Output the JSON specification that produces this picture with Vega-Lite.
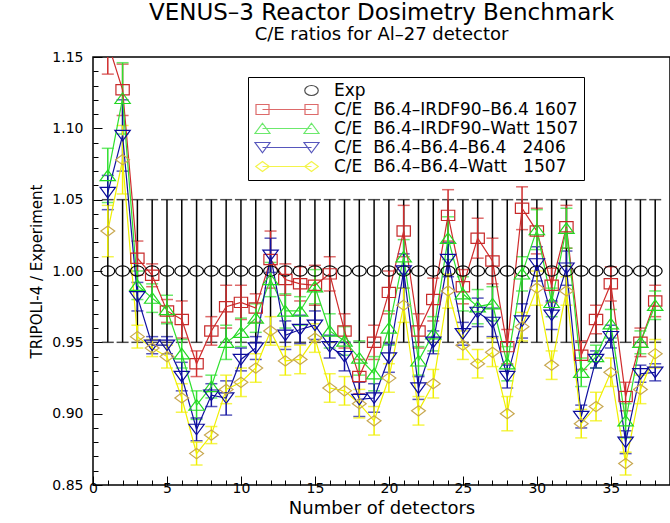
{
  "$schema": "https://vega.github.io/schema/vega-lite/v6.json",
  "width": 577,
  "height": 428,
  "autosize": {"type": "none"},
  "padding": {"left": 93, "top": 57, "right": 0, "bottom": 38},
  "background": "white",
  "config": {
    "font": "DejaVu Sans",
    "view": {"stroke": "black", "strokeWidth": 1.5},
    "axis": {"grid": false, "domain": false, "ticks": true, "tickWidth": 1, "tickColor": "black", "labelColor": "black", "titleColor": "black", "titleFontWeight": "normal", "labelFont": "DejaVu Sans", "titleFont": "DejaVu Sans", "labelOverlap": false, "labelFlush": false, "labelBound": false}
  },
  "title": {
    "text": "VENUS–3 Reactor Dosimetry Benchmark",
    "subtitle": "C/E ratios for Al–27 detector",
    "anchor": "middle",
    "font": "DejaVu Sans",
    "fontSize": 23,
    "fontWeight": "normal",
    "color": "black",
    "subtitleFont": "DejaVu Sans",
    "subtitleFontSize": 18,
    "subtitleColor": "black",
    "subtitlePadding": 1,
    "offset": 6
  },
  "datasets": {
    "vals": [
      {"detector":1,"series":"Exp","ratio":1.0,"err":0.05},{"detector":2,"series":"Exp","ratio":1.0,"err":0.05},{"detector":3,"series":"Exp","ratio":1.0,"err":0.05},{"detector":4,"series":"Exp","ratio":1.0,"err":0.05},{"detector":5,"series":"Exp","ratio":1.0,"err":0.05},{"detector":6,"series":"Exp","ratio":1.0,"err":0.05},{"detector":7,"series":"Exp","ratio":1.0,"err":0.05},{"detector":8,"series":"Exp","ratio":1.0,"err":0.05},{"detector":9,"series":"Exp","ratio":1.0,"err":0.05},{"detector":10,"series":"Exp","ratio":1.0,"err":0.05},
      {"detector":11,"series":"Exp","ratio":1.0,"err":0.05},{"detector":12,"series":"Exp","ratio":1.0,"err":0.05},{"detector":13,"series":"Exp","ratio":1.0,"err":0.05},{"detector":14,"series":"Exp","ratio":1.0,"err":0.05},{"detector":15,"series":"Exp","ratio":1.0,"err":0.05},{"detector":16,"series":"Exp","ratio":1.0,"err":0.05},{"detector":17,"series":"Exp","ratio":1.0,"err":0.05},{"detector":18,"series":"Exp","ratio":1.0,"err":0.05},{"detector":19,"series":"Exp","ratio":1.0,"err":0.05},{"detector":20,"series":"Exp","ratio":1.0,"err":0.05},
      {"detector":21,"series":"Exp","ratio":1.0,"err":0.05},{"detector":22,"series":"Exp","ratio":1.0,"err":0.05},{"detector":23,"series":"Exp","ratio":1.0,"err":0.05},{"detector":24,"series":"Exp","ratio":1.0,"err":0.05},{"detector":25,"series":"Exp","ratio":1.0,"err":0.05},{"detector":26,"series":"Exp","ratio":1.0,"err":0.05},{"detector":27,"series":"Exp","ratio":1.0,"err":0.05},{"detector":28,"series":"Exp","ratio":1.0,"err":0.05},{"detector":29,"series":"Exp","ratio":1.0,"err":0.05},{"detector":30,"series":"Exp","ratio":1.0,"err":0.05},
      {"detector":31,"series":"Exp","ratio":1.0,"err":0.05},{"detector":32,"series":"Exp","ratio":1.0,"err":0.05},{"detector":33,"series":"Exp","ratio":1.0,"err":0.05},{"detector":34,"series":"Exp","ratio":1.0,"err":0.05},{"detector":35,"series":"Exp","ratio":1.0,"err":0.05},{"detector":36,"series":"Exp","ratio":1.0,"err":0.05},{"detector":37,"series":"Exp","ratio":1.0,"err":0.05},{"detector":38,"series":"Exp","ratio":1.0,"err":0.05},

      {"detector":1,"series":"C/E\u00a0\u00a0B6.4–IRDF90–B6.4 1607","ratio":1.160,"err":0.022},{"detector":2,"series":"C/E\u00a0\u00a0B6.4–IRDF90–B6.4 1607","ratio":1.127,"err":0.018},{"detector":3,"series":"C/E\u00a0\u00a0B6.4–IRDF90–B6.4 1607","ratio":1.009,"err":0.012},{"detector":4,"series":"C/E\u00a0\u00a0B6.4–IRDF90–B6.4 1607","ratio":0.997,"err":0.008},{"detector":5,"series":"C/E\u00a0\u00a0B6.4–IRDF90–B6.4 1607","ratio":0.972,"err":0.008},{"detector":6,"series":"C/E\u00a0\u00a0B6.4–IRDF90–B6.4 1607","ratio":0.966,"err":0.013},{"detector":7,"series":"C/E\u00a0\u00a0B6.4–IRDF90–B6.4 1607","ratio":0.935,"err":0.009},{"detector":8,"series":"C/E\u00a0\u00a0B6.4–IRDF90–B6.4 1607","ratio":0.958,"err":0.010},{"detector":9,"series":"C/E\u00a0\u00a0B6.4–IRDF90–B6.4 1607","ratio":0.975,"err":0.015},{"detector":10,"series":"C/E\u00a0\u00a0B6.4–IRDF90–B6.4 1607","ratio":0.978,"err":0.012},
      {"detector":11,"series":"C/E\u00a0\u00a0B6.4–IRDF90–B6.4 1607","ratio":0.974,"err":0.010},{"detector":12,"series":"C/E\u00a0\u00a0B6.4–IRDF90–B6.4 1607","ratio":1.008,"err":0.020},{"detector":13,"series":"C/E\u00a0\u00a0B6.4–IRDF90–B6.4 1607","ratio":0.994,"err":0.011},{"detector":14,"series":"C/E\u00a0\u00a0B6.4–IRDF90–B6.4 1607","ratio":0.991,"err":0.012},{"detector":15,"series":"C/E\u00a0\u00a0B6.4–IRDF90–B6.4 1607","ratio":0.990,"err":0.014},{"detector":16,"series":"C/E\u00a0\u00a0B6.4–IRDF90–B6.4 1607","ratio":0.998,"err":0.012},{"detector":17,"series":"C/E\u00a0\u00a0B6.4–IRDF90–B6.4 1607","ratio":0.958,"err":0.012},{"detector":18,"series":"C/E\u00a0\u00a0B6.4–IRDF90–B6.4 1607","ratio":0.926,"err":0.012},{"detector":19,"series":"C/E\u00a0\u00a0B6.4–IRDF90–B6.4 1607","ratio":0.950,"err":0.012},{"detector":20,"series":"C/E\u00a0\u00a0B6.4–IRDF90–B6.4 1607","ratio":0.985,"err":0.015},
      {"detector":21,"series":"C/E\u00a0\u00a0B6.4–IRDF90–B6.4 1607","ratio":1.028,"err":0.018},{"detector":22,"series":"C/E\u00a0\u00a0B6.4–IRDF90–B6.4 1607","ratio":0.958,"err":0.012},{"detector":23,"series":"C/E\u00a0\u00a0B6.4–IRDF90–B6.4 1607","ratio":0.980,"err":0.015},{"detector":24,"series":"C/E\u00a0\u00a0B6.4–IRDF90–B6.4 1607","ratio":1.039,"err":0.018},{"detector":25,"series":"C/E\u00a0\u00a0B6.4–IRDF90–B6.4 1607","ratio":0.989,"err":0.012},{"detector":26,"series":"C/E\u00a0\u00a0B6.4–IRDF90–B6.4 1607","ratio":1.023,"err":0.014},{"detector":27,"series":"C/E\u00a0\u00a0B6.4–IRDF90–B6.4 1607","ratio":1.007,"err":0.016},{"detector":28,"series":"C/E\u00a0\u00a0B6.4–IRDF90–B6.4 1607","ratio":0.947,"err":0.012},{"detector":29,"series":"C/E\u00a0\u00a0B6.4–IRDF90–B6.4 1607","ratio":1.044,"err":0.015},{"detector":30,"series":"C/E\u00a0\u00a0B6.4–IRDF90–B6.4 1607","ratio":1.028,"err":0.016},
      {"detector":31,"series":"C/E\u00a0\u00a0B6.4–IRDF90–B6.4 1607","ratio":0.990,"err":0.012},{"detector":32,"series":"C/E\u00a0\u00a0B6.4–IRDF90–B6.4 1607","ratio":1.031,"err":0.015},{"detector":33,"series":"C/E\u00a0\u00a0B6.4–IRDF90–B6.4 1607","ratio":0.941,"err":0.010},{"detector":34,"series":"C/E\u00a0\u00a0B6.4–IRDF90–B6.4 1607","ratio":0.966,"err":0.010},{"detector":35,"series":"C/E\u00a0\u00a0B6.4–IRDF90–B6.4 1607","ratio":0.991,"err":0.012},{"detector":36,"series":"C/E\u00a0\u00a0B6.4–IRDF90–B6.4 1607","ratio":0.912,"err":0.010},{"detector":37,"series":"C/E\u00a0\u00a0B6.4–IRDF90–B6.4 1607","ratio":0.950,"err":0.010},{"detector":38,"series":"C/E\u00a0\u00a0B6.4–IRDF90–B6.4 1607","ratio":0.979,"err":0.011},

      {"detector":1,"series":"C/E\u00a0\u00a0B6.4–IRDF90–Watt 1507","ratio":1.067,"err":0.019},{"detector":2,"series":"C/E\u00a0\u00a0B6.4–IRDF90–Watt 1507","ratio":1.121,"err":0.025},{"detector":3,"series":"C/E\u00a0\u00a0B6.4–IRDF90–Watt 1507","ratio":0.990,"err":0.010},{"detector":4,"series":"C/E\u00a0\u00a0B6.4–IRDF90–Watt 1507","ratio":0.981,"err":0.010},{"detector":5,"series":"C/E\u00a0\u00a0B6.4–IRDF90–Watt 1507","ratio":0.973,"err":0.010},{"detector":6,"series":"C/E\u00a0\u00a0B6.4–IRDF90–Watt 1507","ratio":0.942,"err":0.010},{"detector":7,"series":"C/E\u00a0\u00a0B6.4–IRDF90–Watt 1507","ratio":0.906,"err":0.010},{"detector":8,"series":"C/E\u00a0\u00a0B6.4–IRDF90–Watt 1507","ratio":0.919,"err":0.008},{"detector":9,"series":"C/E\u00a0\u00a0B6.4–IRDF90–Watt 1507","ratio":0.950,"err":0.012},{"detector":10,"series":"C/E\u00a0\u00a0B6.4–IRDF90–Watt 1507","ratio":0.957,"err":0.010},
      {"detector":11,"series":"C/E\u00a0\u00a0B6.4–IRDF90–Watt 1507","ratio":0.967,"err":0.010},{"detector":12,"series":"C/E\u00a0\u00a0B6.4–IRDF90–Watt 1507","ratio":0.994,"err":0.012},{"detector":13,"series":"C/E\u00a0\u00a0B6.4–IRDF90–Watt 1507","ratio":0.972,"err":0.012},{"detector":14,"series":"C/E\u00a0\u00a0B6.4–IRDF90–Watt 1507","ratio":0.972,"err":0.010},{"detector":15,"series":"C/E\u00a0\u00a0B6.4–IRDF90–Watt 1507","ratio":0.989,"err":0.012},{"detector":16,"series":"C/E\u00a0\u00a0B6.4–IRDF90–Watt 1507","ratio":0.958,"err":0.012},{"detector":17,"series":"C/E\u00a0\u00a0B6.4–IRDF90–Watt 1507","ratio":0.951,"err":0.010},{"detector":18,"series":"C/E\u00a0\u00a0B6.4–IRDF90–Watt 1507","ratio":0.939,"err":0.012},{"detector":19,"series":"C/E\u00a0\u00a0B6.4–IRDF90–Watt 1507","ratio":0.928,"err":0.012},{"detector":20,"series":"C/E\u00a0\u00a0B6.4–IRDF90–Watt 1507","ratio":0.960,"err":0.012},
      {"detector":21,"series":"C/E\u00a0\u00a0B6.4–IRDF90–Watt 1507","ratio":1.010,"err":0.012},{"detector":22,"series":"C/E\u00a0\u00a0B6.4–IRDF90–Watt 1507","ratio":0.937,"err":0.010},{"detector":23,"series":"C/E\u00a0\u00a0B6.4–IRDF90–Watt 1507","ratio":0.956,"err":0.012},{"detector":24,"series":"C/E\u00a0\u00a0B6.4–IRDF90–Watt 1507","ratio":1.023,"err":0.015},{"detector":25,"series":"C/E\u00a0\u00a0B6.4–IRDF90–Watt 1507","ratio":0.984,"err":0.012},{"detector":26,"series":"C/E\u00a0\u00a0B6.4–IRDF90–Watt 1507","ratio":0.975,"err":0.012},{"detector":27,"series":"C/E\u00a0\u00a0B6.4–IRDF90–Watt 1507","ratio":0.977,"err":0.012},{"detector":28,"series":"C/E\u00a0\u00a0B6.4–IRDF90–Watt 1507","ratio":0.935,"err":0.012},{"detector":29,"series":"C/E\u00a0\u00a0B6.4–IRDF90–Watt 1507","ratio":0.998,"err":0.012},{"detector":30,"series":"C/E\u00a0\u00a0B6.4–IRDF90–Watt 1507","ratio":1.029,"err":0.014},
      {"detector":31,"series":"C/E\u00a0\u00a0B6.4–IRDF90–Watt 1507","ratio":0.978,"err":0.010},{"detector":32,"series":"C/E\u00a0\u00a0B6.4–IRDF90–Watt 1507","ratio":1.030,"err":0.014},{"detector":33,"series":"C/E\u00a0\u00a0B6.4–IRDF90–Watt 1507","ratio":0.929,"err":0.010},{"detector":34,"series":"C/E\u00a0\u00a0B6.4–IRDF90–Watt 1507","ratio":0.940,"err":0.008},{"detector":35,"series":"C/E\u00a0\u00a0B6.4–IRDF90–Watt 1507","ratio":0.963,"err":0.010},{"detector":36,"series":"C/E\u00a0\u00a0B6.4–IRDF90–Watt 1507","ratio":0.895,"err":0.012},{"detector":37,"series":"C/E\u00a0\u00a0B6.4–IRDF90–Watt 1507","ratio":0.950,"err":0.008},{"detector":38,"series":"C/E\u00a0\u00a0B6.4–IRDF90–Watt 1507","ratio":0.976,"err":0.010},

      {"detector":1,"series":"C/E\u00a0\u00a0B6.4–B6.4–B6.4\u00a0\u00a0\u00a02406","ratio":1.055,"err":0.012},{"detector":2,"series":"C/E\u00a0\u00a0B6.4–B6.4–B6.4\u00a0\u00a0\u00a02406","ratio":1.095,"err":0.025},{"detector":3,"series":"C/E\u00a0\u00a0B6.4–B6.4–B6.4\u00a0\u00a0\u00a02406","ratio":0.982,"err":0.010},{"detector":4,"series":"C/E\u00a0\u00a0B6.4–B6.4–B6.4\u00a0\u00a0\u00a02406","ratio":0.948,"err":0.006},{"detector":5,"series":"C/E\u00a0\u00a0B6.4–B6.4–B6.4\u00a0\u00a0\u00a02406","ratio":0.948,"err":0.006},{"detector":6,"series":"C/E\u00a0\u00a0B6.4–B6.4–B6.4\u00a0\u00a0\u00a02406","ratio":0.926,"err":0.010},{"detector":7,"series":"C/E\u00a0\u00a0B6.4–B6.4–B6.4\u00a0\u00a0\u00a02406","ratio":0.889,"err":0.008},{"detector":8,"series":"C/E\u00a0\u00a0B6.4–B6.4–B6.4\u00a0\u00a0\u00a02406","ratio":0.913,"err":0.008},{"detector":9,"series":"C/E\u00a0\u00a0B6.4–B6.4–B6.4\u00a0\u00a0\u00a02406","ratio":0.911,"err":0.012},{"detector":10,"series":"C/E\u00a0\u00a0B6.4–B6.4–B6.4\u00a0\u00a0\u00a02406","ratio":0.938,"err":0.008},
      {"detector":11,"series":"C/E\u00a0\u00a0B6.4–B6.4–B6.4\u00a0\u00a0\u00a02406","ratio":0.946,"err":0.008},{"detector":12,"series":"C/E\u00a0\u00a0B6.4–B6.4–B6.4\u00a0\u00a0\u00a02406","ratio":1.011,"err":0.012},{"detector":13,"series":"C/E\u00a0\u00a0B6.4–B6.4–B6.4\u00a0\u00a0\u00a02406","ratio":0.955,"err":0.010},{"detector":14,"series":"C/E\u00a0\u00a0B6.4–B6.4–B6.4\u00a0\u00a0\u00a02406","ratio":0.959,"err":0.010},{"detector":15,"series":"C/E\u00a0\u00a0B6.4–B6.4–B6.4\u00a0\u00a0\u00a02406","ratio":0.962,"err":0.010},{"detector":16,"series":"C/E\u00a0\u00a0B6.4–B6.4–B6.4\u00a0\u00a0\u00a02406","ratio":0.947,"err":0.008},{"detector":17,"series":"C/E\u00a0\u00a0B6.4–B6.4–B6.4\u00a0\u00a0\u00a02406","ratio":0.940,"err":0.010},{"detector":18,"series":"C/E\u00a0\u00a0B6.4–B6.4–B6.4\u00a0\u00a0\u00a02406","ratio":0.910,"err":0.012},{"detector":19,"series":"C/E\u00a0\u00a0B6.4–B6.4–B6.4\u00a0\u00a0\u00a02406","ratio":0.911,"err":0.010},{"detector":20,"series":"C/E\u00a0\u00a0B6.4–B6.4–B6.4\u00a0\u00a0\u00a02406","ratio":0.939,"err":0.010},
      {"detector":21,"series":"C/E\u00a0\u00a0B6.4–B6.4–B6.4\u00a0\u00a0\u00a02406","ratio":1.000,"err":0.012},{"detector":22,"series":"C/E\u00a0\u00a0B6.4–B6.4–B6.4\u00a0\u00a0\u00a02406","ratio":0.918,"err":0.008},{"detector":23,"series":"C/E\u00a0\u00a0B6.4–B6.4–B6.4\u00a0\u00a0\u00a02406","ratio":0.950,"err":0.008},{"detector":24,"series":"C/E\u00a0\u00a0B6.4–B6.4–B6.4\u00a0\u00a0\u00a02406","ratio":1.008,"err":0.012},{"detector":25,"series":"C/E\u00a0\u00a0B6.4–B6.4–B6.4\u00a0\u00a0\u00a02406","ratio":0.956,"err":0.008},{"detector":26,"series":"C/E\u00a0\u00a0B6.4–B6.4–B6.4\u00a0\u00a0\u00a02406","ratio":0.971,"err":0.010},{"detector":27,"series":"C/E\u00a0\u00a0B6.4–B6.4–B6.4\u00a0\u00a0\u00a02406","ratio":0.964,"err":0.010},{"detector":28,"series":"C/E\u00a0\u00a0B6.4–B6.4–B6.4\u00a0\u00a0\u00a02406","ratio":0.926,"err":0.008},{"detector":29,"series":"C/E\u00a0\u00a0B6.4–B6.4–B6.4\u00a0\u00a0\u00a02406","ratio":0.965,"err":0.012},{"detector":30,"series":"C/E\u00a0\u00a0B6.4–B6.4–B6.4\u00a0\u00a0\u00a02406","ratio":1.005,"err":0.012},
      {"detector":31,"series":"C/E\u00a0\u00a0B6.4–B6.4–B6.4\u00a0\u00a0\u00a02406","ratio":0.969,"err":0.010},{"detector":32,"series":"C/E\u00a0\u00a0B6.4–B6.4–B6.4\u00a0\u00a0\u00a02406","ratio":1.002,"err":0.012},{"detector":33,"series":"C/E\u00a0\u00a0B6.4–B6.4–B6.4\u00a0\u00a0\u00a02406","ratio":0.898,"err":0.008},{"detector":34,"series":"C/E\u00a0\u00a0B6.4–B6.4–B6.4\u00a0\u00a0\u00a02406","ratio":0.938,"err":0.006},{"detector":35,"series":"C/E\u00a0\u00a0B6.4–B6.4–B6.4\u00a0\u00a0\u00a02406","ratio":0.954,"err":0.008},{"detector":36,"series":"C/E\u00a0\u00a0B6.4–B6.4–B6.4\u00a0\u00a0\u00a02406","ratio":0.880,"err":0.008},{"detector":37,"series":"C/E\u00a0\u00a0B6.4–B6.4–B6.4\u00a0\u00a0\u00a02406","ratio":0.928,"err":0.006},{"detector":38,"series":"C/E\u00a0\u00a0B6.4–B6.4–B6.4\u00a0\u00a0\u00a02406","ratio":0.929,"err":0.006},

      {"detector":1,"series":"C/E\u00a0\u00a0B6.4–B6.4–Watt\u00a0\u00a0\u00a01507","ratio":1.028,"err":0.018},{"detector":2,"series":"C/E\u00a0\u00a0B6.4–B6.4–Watt\u00a0\u00a0\u00a01507","ratio":1.078,"err":0.024},{"detector":3,"series":"C/E\u00a0\u00a0B6.4–B6.4–Watt\u00a0\u00a0\u00a01507","ratio":0.954,"err":0.008},{"detector":4,"series":"C/E\u00a0\u00a0B6.4–B6.4–Watt\u00a0\u00a0\u00a01507","ratio":0.946,"err":0.006},{"detector":5,"series":"C/E\u00a0\u00a0B6.4–B6.4–Watt\u00a0\u00a0\u00a01507","ratio":0.940,"err":0.008},{"detector":6,"series":"C/E\u00a0\u00a0B6.4–B6.4–Watt\u00a0\u00a0\u00a01507","ratio":0.911,"err":0.010},{"detector":7,"series":"C/E\u00a0\u00a0B6.4–B6.4–Watt\u00a0\u00a0\u00a01507","ratio":0.872,"err":0.008},{"detector":8,"series":"C/E\u00a0\u00a0B6.4–B6.4–Watt\u00a0\u00a0\u00a01507","ratio":0.885,"err":0.006},{"detector":9,"series":"C/E\u00a0\u00a0B6.4–B6.4–Watt\u00a0\u00a0\u00a01507","ratio":0.917,"err":0.010},{"detector":10,"series":"C/E\u00a0\u00a0B6.4–B6.4–Watt\u00a0\u00a0\u00a01507","ratio":0.922,"err":0.010},
      {"detector":11,"series":"C/E\u00a0\u00a0B6.4–B6.4–Watt\u00a0\u00a0\u00a01507","ratio":0.932,"err":0.010},{"detector":12,"series":"C/E\u00a0\u00a0B6.4–B6.4–Watt\u00a0\u00a0\u00a01507","ratio":0.958,"err":0.010},{"detector":13,"series":"C/E\u00a0\u00a0B6.4–B6.4–Watt\u00a0\u00a0\u00a01507","ratio":0.937,"err":0.010},{"detector":14,"series":"C/E\u00a0\u00a0B6.4–B6.4–Watt\u00a0\u00a0\u00a01507","ratio":0.938,"err":0.010},{"detector":15,"series":"C/E\u00a0\u00a0B6.4–B6.4–Watt\u00a0\u00a0\u00a01507","ratio":0.953,"err":0.010},{"detector":16,"series":"C/E\u00a0\u00a0B6.4–B6.4–Watt\u00a0\u00a0\u00a01507","ratio":0.918,"err":0.010},{"detector":17,"series":"C/E\u00a0\u00a0B6.4–B6.4–Watt\u00a0\u00a0\u00a01507","ratio":0.916,"err":0.010},{"detector":18,"series":"C/E\u00a0\u00a0B6.4–B6.4–Watt\u00a0\u00a0\u00a01507","ratio":0.907,"err":0.010},{"detector":19,"series":"C/E\u00a0\u00a0B6.4–B6.4–Watt\u00a0\u00a0\u00a01507","ratio":0.895,"err":0.010},{"detector":20,"series":"C/E\u00a0\u00a0B6.4–B6.4–Watt\u00a0\u00a0\u00a01507","ratio":0.925,"err":0.010},
      {"detector":21,"series":"C/E\u00a0\u00a0B6.4–B6.4–Watt\u00a0\u00a0\u00a01507","ratio":0.976,"err":0.012},{"detector":22,"series":"C/E\u00a0\u00a0B6.4–B6.4–Watt\u00a0\u00a0\u00a01507","ratio":0.902,"err":0.010},{"detector":23,"series":"C/E\u00a0\u00a0B6.4–B6.4–Watt\u00a0\u00a0\u00a01507","ratio":0.921,"err":0.010},{"detector":24,"series":"C/E\u00a0\u00a0B6.4–B6.4–Watt\u00a0\u00a0\u00a01507","ratio":0.986,"err":0.012},{"detector":25,"series":"C/E\u00a0\u00a0B6.4–B6.4–Watt\u00a0\u00a0\u00a01507","ratio":0.948,"err":0.010},{"detector":26,"series":"C/E\u00a0\u00a0B6.4–B6.4–Watt\u00a0\u00a0\u00a01507","ratio":0.935,"err":0.010},{"detector":27,"series":"C/E\u00a0\u00a0B6.4–B6.4–Watt\u00a0\u00a0\u00a01507","ratio":0.943,"err":0.010},{"detector":28,"series":"C/E\u00a0\u00a0B6.4–B6.4–Watt\u00a0\u00a0\u00a01507","ratio":0.900,"err":0.012},{"detector":29,"series":"C/E\u00a0\u00a0B6.4–B6.4–Watt\u00a0\u00a0\u00a01507","ratio":0.961,"err":0.010},{"detector":30,"series":"C/E\u00a0\u00a0B6.4–B6.4–Watt\u00a0\u00a0\u00a01507","ratio":0.988,"err":0.012},
      {"detector":31,"series":"C/E\u00a0\u00a0B6.4–B6.4–Watt\u00a0\u00a0\u00a01507","ratio":0.934,"err":0.010},{"detector":32,"series":"C/E\u00a0\u00a0B6.4–B6.4–Watt\u00a0\u00a0\u00a01507","ratio":0.986,"err":0.010},{"detector":33,"series":"C/E\u00a0\u00a0B6.4–B6.4–Watt\u00a0\u00a0\u00a01507","ratio":0.893,"err":0.010},{"detector":34,"series":"C/E\u00a0\u00a0B6.4–B6.4–Watt\u00a0\u00a0\u00a01507","ratio":0.905,"err":0.010},{"detector":35,"series":"C/E\u00a0\u00a0B6.4–B6.4–Watt\u00a0\u00a0\u00a01507","ratio":0.929,"err":0.010},{"detector":36,"series":"C/E\u00a0\u00a0B6.4–B6.4–Watt\u00a0\u00a0\u00a01507","ratio":0.865,"err":0.008},{"detector":37,"series":"C/E\u00a0\u00a0B6.4–B6.4–Watt\u00a0\u00a0\u00a01507","ratio":0.917,"err":0.010},{"detector":38,"series":"C/E\u00a0\u00a0B6.4–B6.4–Watt\u00a0\u00a0\u00a01507","ratio":0.942,"err":0.010}
    ]
  },
  "data": {"name": "vals"},
  "encoding": {
    "x": {"field": "detector", "type": "quantitative",
      "scale": {"domain": [0, 39], "nice": false, "zero": false},
      "axis": {"title": "Number of detectors", "titleFontSize": 18, "titlePadding": 0,
        "values": [0,1,2,3,4,5,6,7,8,9,10,11,12,13,14,15,16,17,18,19,20,21,22,23,24,25,26,27,28,29,30,31,32,33,34,35,36,37,38],
        "labelExpr": "datum.value % 5 == 0 ? datum.label : ''",
        "labelOverlap": false, "labelFlush": false, "labelBound": false,
        "labelFontSize": 14, "labelPadding": 5,
        "tickSize": {"condition": {"test": "datum.value % 5 == 0", "value": -9}, "value": -5}}},
    "y": {"field": "ratio", "type": "quantitative",
      "scale": {"domain": [0.85, 1.15], "nice": false, "zero": false},
      "axis": {"title": "TRIPOLI-4 / Experiment", "titleFontSize": 15, "titlePadding": 7,
        "values": [0.85,0.86,0.87,0.88,0.89,0.9,0.91,0.92,0.93,0.94,0.95,0.96,0.97,0.98,0.99,1.0,1.01,1.02,1.03,1.04,1.05,1.06,1.07,1.08,1.09,1.1,1.11,1.12,1.13,1.14,1.15],
        "labelExpr": "round(datum.value*100) % 5 == 0 ? format(datum.value, '.2f') : ''",
        "labelOverlap": false, "labelFlush": false, "labelBound": false,
        "labelFontSize": 14, "labelPadding": 19,
        "tickSize": {"condition": {"test": "round(datum.value*100) % 5 == 0", "value": -9}, "value": -5}}}
  },
  "layer": [
    {
      "mark": {"type": "errorbar", "ticks": {"size": 12}, "thickness": 1.5, "clip": true},
      "encoding": {
        "yError": {"field": "err"},
        "color": {"field": "series", "type": "nominal",
          "scale": {"domain": ["Exp", "C/E\u00a0\u00a0B6.4–IRDF90–B6.4 1607", "C/E\u00a0\u00a0B6.4–IRDF90–Watt 1507", "C/E\u00a0\u00a0B6.4–B6.4–B6.4\u00a0\u00a0\u00a02406", "C/E\u00a0\u00a0B6.4–B6.4–Watt\u00a0\u00a0\u00a01507"],
                    "range": ["#000000", "#d02c2c", "#2ee02e", "#1010a0", "#f0f000"]},
          "legend": {"title": null, "orient": "none", "legendX": 155, "legendY": 20,
            "padding": 5, "strokeColor": "black", "fillColor": "white",
            "labelFont": "DejaVu Sans", "labelFontSize": 17, "labelLimit": 600, "labelColor": "black",
            "symbolSize": 100, "symbolStrokeWidth": 1.2, "symbolOffset": 50, "labelOffset": 14, "rowPadding": 1,
            "encoding": {"symbols": {
              "shape": {"condition": [
                {"test": "datum.value == 'Exp'", "value": "M-1.35,0A1.35,1,0,1,0,1.35,0A1.35,1,0,1,0,-1.35,0Z"},
                {"test": "datum.value == 'C/E\u00a0\u00a0B6.4–IRDF90–B6.4 1607'", "value": "M-9.8,0H0M-11.1,-1H-8.5V1H-11.1ZM-1.3,-1H1.3V1H-1.3Z"},
                {"test": "datum.value == 'C/E\u00a0\u00a0B6.4–IRDF90–Watt 1507'", "value": "M-9.8,0H0M-9.8,-1.05L-8.3,1L-11.3,1ZM0,-1.05L1.5,1L-1.5,1Z"},
                {"test": "datum.value == 'C/E\u00a0\u00a0B6.4–B6.4–B6.4\u00a0\u00a0\u00a02406'", "value": "M-9.8,0H0M-9.8,1.05L-8.3,-1L-11.3,-1ZM0,1.05L1.5,-1L-1.5,-1Z"}],
                "value": "M-9.8,0H0M-9.8,-1L-8.45,0L-9.8,1L-11.15,0ZM0,-1L1.35,0L0,1L-1.35,0Z"},
              "fillOpacity": {"value": 0},
              "strokeOpacity": {"value": 1}
            }}}}
      }
    },
    {
      "transform": [{"filter": "datum.series != 'Exp'"}],
      "mark": {"type": "line", "strokeWidth": 1.2, "clip": true},
      "encoding": {
        "color": {"field": "series", "type": "nominal"}
      }
    },
    {
      "mark": {"type": "point", "filled": false, "size": 105, "strokeWidth": 1.2, "opacity": 1, "clip": true},
      "encoding": {
        "shape": {"field": "series", "type": "nominal", "legend": null,
          "scale": {"domain": ["C/E\u00a0\u00a0B6.4–B6.4–Watt\u00a0\u00a0\u00a01507", "C/E\u00a0\u00a0B6.4–B6.4–B6.4\u00a0\u00a0\u00a02406", "C/E\u00a0\u00a0B6.4–IRDF90–Watt 1507", "C/E\u00a0\u00a0B6.4–IRDF90–B6.4 1607", "Exp"],
            "range": ["M0,-1L1.35,0L0,1L-1.35,0Z", "M0,1.05L1.5,-1L-1.5,-1Z", "M0,-1.05L1.5,1L-1.5,1Z", "M-1.3,-1H1.3V1H-1.3Z", "M-1.35,0A1.35,1,0,1,0,1.35,0A1.35,1,0,1,0,-1.35,0Z"]}},
        "stroke": {"field": "series", "type": "nominal", "legend": null,
          "scale": {"domain": ["C/E\u00a0\u00a0B6.4–IRDF90–B6.4 1607", "Exp", "C/E\u00a0\u00a0B6.4–B6.4–Watt\u00a0\u00a0\u00a01507", "C/E\u00a0\u00a0B6.4–IRDF90–Watt 1507", "C/E\u00a0\u00a0B6.4–B6.4–B6.4\u00a0\u00a0\u00a02406"],
            "range": ["#c82a2a", "#000000", "#c8a850", "#22d822", "#0c0c9c"]}}
      }
    }
  ]
}
